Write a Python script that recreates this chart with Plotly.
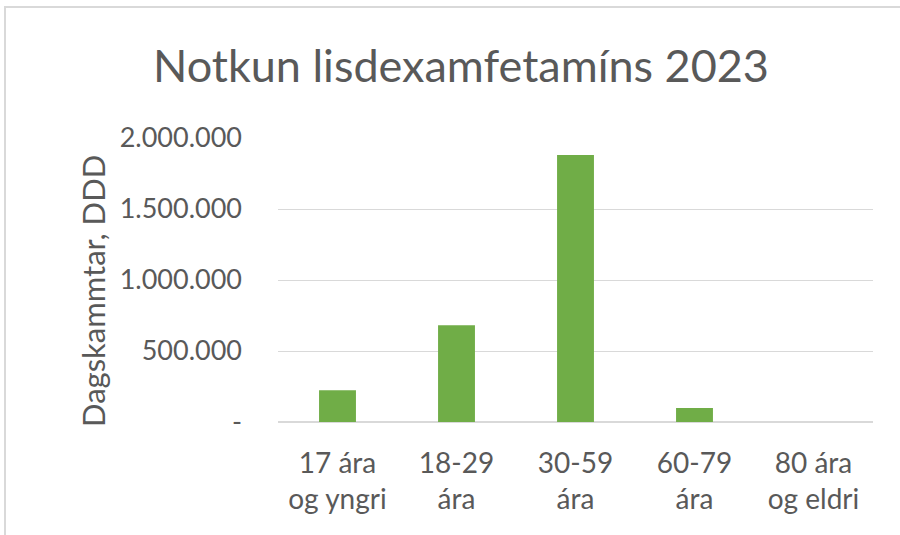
import plotly.graph_objects as go

categories = ["17 ára<br>og yngri", "18-29<br>ára", "30-59<br>ára", "60-79<br>ára", "80 ára<br>og eldri"]
values = [224000, 682000, 1880000, 99000, 0]
y_tickvals = [0, 500000, 1000000, 1500000, 2000000]
y_ticktext = ["-", "500.000", "1.000.000", "1.500.000", "2.000.000"]
title_text = "Notkun lisdexamfetamíns 2023"
y_title = "Dagskammtar, DDD"

FONT = "Lato, Open Sans, sans-serif"
GREY = "#595959"
W, H = 900, 535
L, R, T, B = 278, 873, 138, 422

def px(x):
    return (x - L) / (R - L)

def py(y):
    return (B - y) / (B - T)

fig = go.Figure(go.Bar(x=categories, y=values, marker=dict(color="#70ad47", line=dict(width=0))))

fig.update_layout(
    width=W, height=H,
    margin=dict(l=L, r=W - R, t=T, b=H - B, pad=0),
    paper_bgcolor="white", plot_bgcolor="white",
    bargap=0.69,
    showlegend=False,
    font=dict(family=FONT, color=GREY),
    title=dict(text=title_text, x=461 / W, xanchor="center", y=1 - 66 / H, yanchor="middle",
               font=dict(family=FONT, size=45, color=GREY)),
    xaxis=dict(showgrid=False, showline=False, ticks="", tickfont=dict(size=28, color=GREY),
               ticklabelstandoff=22, fixedrange=True),
    yaxis=dict(range=[0, 2000000], tickvals=y_tickvals, ticktext=y_ticktext,
               showgrid=True, gridcolor="#d9d9d9", gridwidth=1,
               zeroline=True, zerolinecolor="#d9d9d9", zerolinewidth=2,
               showline=False, ticks="", tickfont=dict(size=27, color=GREY),
               ticklabelstandoff=35, fixedrange=True),
    annotations=[dict(text=y_title, textangle=-90, xref="paper", yref="paper",
                      x=px(72), y=py(291), showarrow=False,
                      font=dict(family=FONT, size=31, color=GREY))],
    shapes=[dict(type="rect", xref="paper", yref="paper",
                 x0=px(5), x1=px(1100), y0=py(800), y1=py(7),
                 line=dict(color="#d9d9d9", width=2), fillcolor="rgba(0,0,0,0)", layer="below")],
)

fig.write_html("out.html", config={"displayModeBar": False},
               post_script="document.body.style.margin='0';document.body.style.overflow='hidden';")
